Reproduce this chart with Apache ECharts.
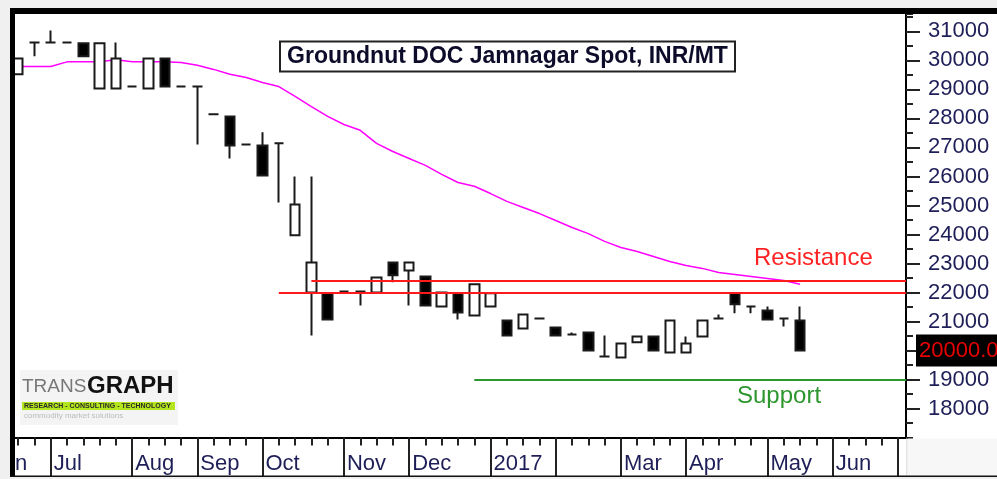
<!DOCTYPE html>
<html>
<head>
<meta charset="utf-8">
<script src="https://cdn.jsdelivr.net/npm/echarts@6/dist/echarts.min.js"></script>
<style>
html, body { margin: 0; padding: 0; background: #f0f0f0; }
#chart { width: 997px; height: 479px; }
</style>
</head>
<body>
<div id="chart"></div>
<script>
// weekly bars, week starting Saturday
var weeks = [
    '2016-06-18', '2016-06-25', '2016-07-02', '2016-07-09', '2016-07-16', '2016-07-23', '2016-07-30',
    '2016-08-06', '2016-08-13', '2016-08-20', '2016-08-27', '2016-09-03', '2016-09-10', '2016-09-17',
    '2016-09-24', '2016-10-01', '2016-10-08', '2016-10-15', '2016-10-22', '2016-10-29', '2016-11-05',
    '2016-11-12', '2016-11-19', '2016-11-26', '2016-12-03', '2016-12-10', '2016-12-17', '2016-12-24',
    '2016-12-31', '2017-01-07', '2017-01-14', '2017-01-21', '2017-01-28', '2017-02-04', '2017-02-11',
    '2017-02-18', '2017-02-25', '2017-03-04', '2017-03-11', '2017-03-18', '2017-03-25', '2017-04-01',
    '2017-04-08', '2017-04-15', '2017-04-22', '2017-04-29', '2017-05-06', '2017-05-13', '2017-05-20',
    '2017-05-27', '2017-06-03', '2017-06-10', '2017-06-17', '2017-06-24', '2017-07-01'
];
var monthStarts = [2, 7, 11, 15, 20, 24, 29, 33, 37, 41, 46, 50, 54];
var monthNames = ['Jul', 'Aug', 'Sep', 'Oct', 'Nov', 'Dec', '2017', '', 'Mar', 'Apr', 'May', 'Jun', ''];

var opens  = [29520, 30620, 30620, 30620, 30590, 29030, 29030, 29100, 29030, 30070, 29100, 29100, 28140, 28070, 27100, 27070, 27140,
              23970, 22000, 21970, 22030, 22030, 22000, 23030, 22760, 22550, 21520, 21970, 21210, 21520, 21030, 20760, 21100,
              20790, 20550, 20620, 19790, 19760, 20280, 20480, 19930, 19930, 20480, 21100, 21970, 21520, 21380, 21100, 21030];
var closes = [30070, 30620, 30620, 30620, 30140, 30590, 30070, 29100, 30070, 29100, 29100, 29100, 28140, 27070, 27100, 26030, 27140,
              25030, 23030, 21070, 22030, 22030, 22520, 22590, 23030, 21550, 22000, 21310, 22280, 21970, 20520, 21240, 21100,
              20520, 20550, 20000, 19790, 20240, 20480, 20000, 21030, 20240, 21030, 21100, 21590, 21520, 21070, 21100, 20000];
var lows   = [29520, 30140, 30620, 30620, 30140, 29030, 29030, 29100, 29030, 29100, 29100, 27100, 28140, 26620, 27100, 26030, 25100,
              23970, 20520, 21070, 22030, 21550, 22000, 22350, 21550, 21550, 21520, 21070, 21210, 21520, 20520, 20760, 21100,
              20520, 20550, 20000, 19790, 19760, 20280, 20000, 19930, 19930, 20480, 21100, 21280, 21280, 21070, 20830, 20000];
var highs  = [30070, 30620, 31030, 30620, 30590, 30590, 30620, 29100, 30070, 30070, 29100, 29100, 28140, 28070, 27100, 27520, 27140,
              26000, 26000, 21970, 22030, 22030, 22520, 23030, 23030, 22550, 22000, 21970, 22280, 21970, 21030, 21240, 21100,
              20790, 20620, 20620, 20520, 20240, 20480, 20480, 21030, 20480, 21030, 21240, 21970, 21520, 21520, 21100, 21520];

// moving average (pink)
var movingAvg = [29790, 29790, 29790, 29950, 29950, 29950, 30020, 29950, 29950, 29950, 29930, 29830, 29690, 29520, 29410, 29240, 29100,
                 28760, 28410, 28070, 27790, 27590, 27140, 26860, 26620, 26380, 26070, 25790, 25660, 25410, 25140, 24930, 24720,
                 24480, 24240, 24030, 23760, 23550, 23410, 23240, 23070, 22930, 22830, 22690, 22620, 22550, 22480, 22410, 22280];

var resistanceHigh = 22400, resistanceHighFrom = 18;
var resistanceLow = 22000, resistanceLowFrom = 16;
var supportLevel = 19000, supportFrom = 28;

var yLabels = [18000, 19000, 20000, 21000, 22000, 23000, 24000, 25000, 26000, 27000, 28000, 29000, 30000, 31000];

var FONT = '"Liberation Sans", Arial, sans-serif';
var TEXT = '#1e1e58';

var candles = [];
for (var i = 0; i < opens.length; i++) {
    candles.push([opens[i], closes[i], lows[i], highs[i]]);
}

var chart = echarts.init(document.getElementById('chart'));
chart.setOption({
    backgroundColor: '#ffffff',
    animation: false,
    grid: { left: 10, right: 91, top: 14, bottom: 41.5 },
    xAxis: [{
        type: 'category',
        data: weeks,
        position: 'bottom',
        axisLine: { show: true, lineStyle: { color: '#000', width: 2 } },
        axisTick: { show: true, interval: 0, alignWithLabel: true, length: 8, lineStyle: { color: '#222', width: 2 } },
        axisLabel: { show: false },
        splitLine: { show: false }
    }, {
        type: 'category',
        data: weeks,
        position: 'bottom',
        axisLine: { show: false },
        axisTick: {
            show: true, alignWithLabel: true, length: 40,
            interval: function (idx) { return monthStarts.indexOf(idx) >= 0; },
            lineStyle: { color: '#222', width: 2 }
        },
        axisLabel: {
            interval: function (idx) { return monthStarts.indexOf(idx) >= 0; },
            formatter: function (v, idx) {
                var k = monthStarts.indexOf(idx);
                return k >= 0 ? monthNames[k] : '';
            },
            align: 'left',
            padding: [0, 0, 0, 3],
            margin: 15,
            color: TEXT,
            fontSize: 22,
            fontFamily: FONT
        },
        splitLine: { show: false }
    }],
    yAxis: [{
        type: 'value',
        position: 'right',
        min: 17000,
        max: 31600,
        axisLine: { show: true, lineStyle: { color: '#000', width: 2 } },
        axisTick: { show: true, length: 14, customValues: yLabels, lineStyle: { color: '#222', width: 2 } },
        axisLabel: {
            customValues: yLabels, margin: 22, color: TEXT, fontSize: 22, fontFamily: FONT,
            formatter: function (v) { return String(v); }
        },
        splitLine: { show: false }
    }, {
        type: 'value',
        position: 'right',
        min: 17000,
        max: 31600,
        interval: 500,
        axisLine: { show: false },
        axisTick: { show: true, length: 7, lineStyle: { color: '#222', width: 2 } },
        axisLabel: { show: false },
        splitLine: { show: false }
    }],
    series: [{
        type: 'line',
        data: movingAvg,
        symbol: 'none',
        lineStyle: { color: '#ff00ff', width: 1.5 },
        z: 2,
        markLine: {
            silent: true,
            symbol: ['none', 'none'],
            label: { show: false },
            data: [
                [{ coord: [resistanceHighFrom, resistanceHigh], lineStyle: { color: '#ff1a1a', width: 2, type: 'solid' } },
                 { coord: [weeks.length - 1, resistanceHigh], x: 906 }],
                [{ coord: [resistanceLowFrom, resistanceLow], lineStyle: { color: '#ff1a1a', width: 2, type: 'solid' } },
                 { coord: [weeks.length - 1, resistanceLow], x: 906 }],
                [{ coord: [supportFrom, supportLevel], lineStyle: { color: '#2e962e', width: 2, type: 'solid' } },
                 { coord: [weeks.length - 1, supportLevel], x: 906 }]
            ]
        }
    }, {
        type: 'candlestick',
        data: candles,
        barWidth: 10,
        z: 3,
        itemStyle: {
            color: '#ffffff',
            color0: '#000000',
            borderColor: '#1a1a1a',
            borderColor0: '#1a1a1a',
            borderWidth: 2
        }
    }]
});

var lastY = chart.convertToPixel({ yAxisIndex: 0 }, closes[closes.length - 1]);

chart.setOption({
    graphic: [
        // outer frame
        { type: 'rect', z: 100, shape: { x: 0, y: 0, width: 997, height: 8 }, style: { fill: '#f0f0f0' } },
        { type: 'rect', z: 100, shape: { x: 0, y: 0, width: 10, height: 479 }, style: { fill: '#f0f0f0' } },
        { type: 'rect', z: 100, shape: { x: 0, y: 477, width: 997, height: 2 }, style: { fill: '#f0f0f0' } },
        { type: 'rect', z: 100, shape: { x: 908, y: 438.5, width: 89, height: 37 }, style: { fill: '#f7f7f7' } },
        { type: 'rect', z: 100, shape: { x: 906, y: 438.5, width: 1.5, height: 37 }, style: { fill: '#e2e2e2' } },
        { type: 'rect', z: 101, shape: { x: 10, y: 8, width: 987, height: 6 }, style: { fill: '#000' } },
        { type: 'rect', z: 101, shape: { x: 10, y: 8, width: 5, height: 469 }, style: { fill: '#000' } },
        { type: 'rect', z: 101, shape: { x: 10, y: 475.5, width: 987, height: 1.6 }, style: { fill: '#111' } },
        // partial "Jun" label at far left
        { type: 'text', z: 101, style: { x: 15, y: 464, text: 'n', fill: TEXT, font: '22px ' + FONT, verticalAlign: 'middle' } },
        // title
        { type: 'rect', z: 90, shape: { x: 280, y: 41.5, width: 455, height: 30 }, style: { fill: '#fff', stroke: '#222', lineWidth: 2 } },
        { type: 'text', z: 91, style: { x: 507.5, y: 57, text: 'Groundnut DOC Jamnagar Spot, INR/MT', fill: '#0c0c2a',
            font: 'bold 23px ' + FONT, align: 'center', verticalAlign: 'middle' } },
        // annotations
        { type: 'text', z: 90, style: { x: 754, y: 258, text: 'Resistance', fill: '#ff2222', font: '24px ' + FONT, verticalAlign: 'middle' } },
        { type: 'text', z: 90, style: { x: 737, y: 396, text: 'Support', fill: '#2e962e', font: '24px ' + FONT, verticalAlign: 'middle' } },
        // last price tag
        { type: 'rect', z: 102, shape: { x: 916, y: lastY - 16, width: 81, height: 32 }, style: { fill: '#000' } },
        { type: 'text', z: 103, style: { x: 919, y: lastY, text: '20000.0', fill: '#e60000', font: '22px ' + FONT, verticalAlign: 'middle' } },
        // logo
        { type: 'rect', z: 90, shape: { x: 20, y: 370, width: 158, height: 55 }, style: { fill: '#f4f4f4' } },
        { type: 'text', z: 91, style: { x: 22, y: 387, text: 'TRANS', fill: '#777', font: '19px ' + FONT, verticalAlign: 'middle' } },
        { type: 'text', z: 91, style: { x: 87, y: 386, text: 'GRAPH', fill: '#111', font: 'bold 24px ' + FONT, verticalAlign: 'middle' } },
        { type: 'rect', z: 91, shape: { x: 22, y: 402, width: 153, height: 8 }, style: { fill: '#b4e61e' } },
        { type: 'text', z: 92, style: { x: 24, y: 406, text: 'RESEARCH - CONSULTING - TECHNOLOGY', fill: '#2a2a2a', font: 'bold 7px ' + FONT, verticalAlign: 'middle' } },
        { type: 'text', z: 92, style: { x: 24, y: 416, text: 'commodity market solutions', fill: '#bbbbbb', font: '8px ' + FONT, verticalAlign: 'middle' } }
    ]
});

window.addEventListener('resize', function () {
    chart.resize();
});
</script>
</body>
</html>
